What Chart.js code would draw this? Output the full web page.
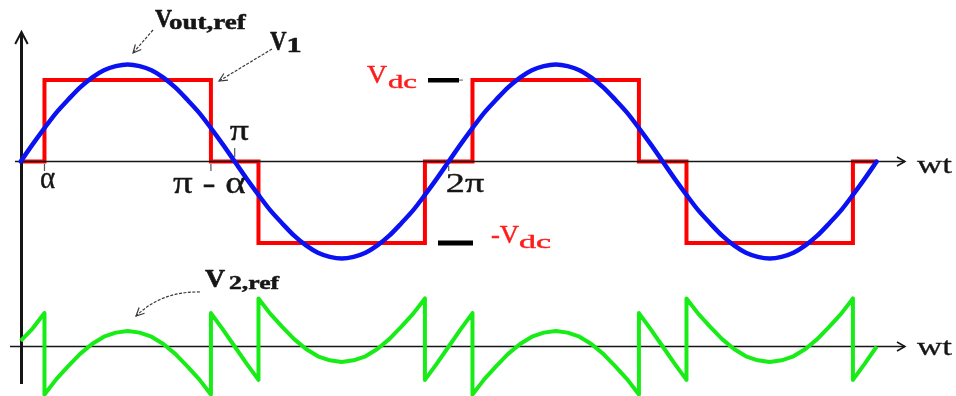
<!DOCTYPE html>
<html>
<head>
<meta charset="utf-8">
<title>Reference voltages of a three-level inverter leg</title>
<script src="https://cdn.jsdelivr.net/npm/chart.js@4.4.1/dist/chart.umd.min.js"></script>
<style>
  html, body { margin: 0; padding: 0; background: #ffffff; }
  #wrap { width: 956px; height: 396px; }
</style>
</head>
<body>
<div id="wrap"><canvas id="wave" width="956" height="396"></canvas></div>
<script>
// Angle axis in degrees (wt), two full periods.
const angleDeg = [
  0, 10, 20, 30, 40, 50, 60, 70, 80, 90, 100, 110, 120, 130, 140, 150, 160, 170,
  180, 190, 200, 210, 220, 230, 240, 250, 260, 270, 280, 290, 300, 310, 320, 330, 340, 350,
  360, 370, 380, 390, 400, 410, 420, 430, 440, 450, 460, 470, 480, 490, 500, 510, 520, 530,
  540, 550, 560, 570, 580, 590, 600, 610, 620, 630, 640, 650, 660, 670, 680, 690, 700, 710, 720
];

// Sinusoidal output reference, in units of Vdc.
const vOutRef = [
  0, 0.21, 0.41, 0.60, 0.76, 0.91, 1.03, 1.12, 1.17, 1.19, 1.17, 1.12, 1.03, 0.91, 0.76, 0.60, 0.41, 0.21,
  0, -0.21, -0.41, -0.60, -0.76, -0.91, -1.03, -1.12, -1.17, -1.19, -1.17, -1.12, -1.03, -0.91, -0.76, -0.60, -0.41, -0.21,
  0, 0.21, 0.41, 0.60, 0.76, 0.91, 1.03, 1.12, 1.17, 1.19, 1.17, 1.12, 1.03, 0.91, 0.76, 0.60, 0.41, 0.21,
  0, -0.21, -0.41, -0.60, -0.76, -0.91, -1.03, -1.12, -1.17, -1.19, -1.17, -1.12, -1.03, -0.91, -0.76, -0.60, -0.41, -0.21,
  0
];

// Quasi-square fundamental V1: switching angles and levels (units of Vdc).
const v1Angle = [0, 20, 20, 160, 160, 200, 200, 340, 340, 380, 380, 520, 520, 560, 560, 700, 700, 720];
const v1Level = [0, 0, 1, 1, 0, 0, -1, -1, 0, 0, 1, 1, 0, 0, -1, -1, 0, 0];

// Remaining reference V2,ref (units of Vdc), with the jumps at each switching angle.
const v2Angle = [
  0, 10, 20, 20, 30, 40, 50, 60, 70, 80, 90, 100, 110, 120, 130, 140, 150, 160, 160, 170,
  180, 190, 200, 200, 210, 220, 230, 240, 250, 260, 270, 280, 290, 300, 310, 320, 330, 340, 340, 350,
  360, 370, 380, 380, 390, 400, 410, 420, 430, 440, 450, 460, 470, 480, 490, 500, 510, 520, 520, 530,
  540, 550, 560, 560, 570, 580, 590, 600, 610, 620, 630, 640, 650, 660, 670, 680, 690, 700, 700, 710,
  720
];
const v2Ref = [
  0.07, 0.22, 0.41, -0.59, -0.40, -0.24, -0.09, 0.03, 0.12, 0.17, 0.19, 0.17, 0.12, 0.03, -0.09, -0.24, -0.40, -0.59, 0.41, 0.21,
  0, -0.21, -0.41, 0.59, 0.40, 0.24, 0.09, -0.03, -0.12, -0.17, -0.19, -0.17, -0.12, -0.03, 0.09, 0.24, 0.40, 0.59, -0.41, -0.21,
  0, 0.21, 0.41, -0.59, -0.40, -0.24, -0.09, 0.03, 0.12, 0.17, 0.19, 0.17, 0.12, 0.03, -0.09, -0.24, -0.40, -0.59, 0.41, 0.21,
  0, -0.21, -0.41, 0.59, 0.40, 0.24, 0.09, -0.03, -0.12, -0.17, -0.19, -0.17, -0.12, -0.03, 0.09, 0.24, 0.40, 0.59, -0.41, -0.21,
  0
];

const pts = (xs, ys) => xs.map((x, i) => ({ x: x, y: ys[i] }));

const SERIF = '"Liberation Serif", "Times New Roman", serif';

// Text drawn with its ink box stretched to a given width; an optional
// thin outline in the same colour gives the heavier printed look.
function fitText(ctx, text, x, baseline, font, width, color, weight) {
  ctx.save();
  ctx.font = font;
  ctx.fillStyle = color;
  ctx.strokeStyle = color;
  ctx.textAlign = 'left';
  ctx.textBaseline = 'alphabetic';
  const m = ctx.measureText(text);
  const ink = m.actualBoundingBoxLeft + m.actualBoundingBoxRight;
  const sx = width / ink;
  ctx.translate(x + m.actualBoundingBoxLeft * sx, baseline);
  ctx.scale(sx, 1);
  ctx.fillText(text, 0, 0);
  if (weight) {
    ctx.lineWidth = weight;
    ctx.lineJoin = 'round';
    ctx.strokeText(text, 0, 0);
  }
  ctx.restore();
}

function arrowHead(ctx, x, y, ang, len, spread) {
  ctx.beginPath();
  ctx.moveTo(x - len * Math.cos(ang - spread), y - len * Math.sin(ang - spread));
  ctx.lineTo(x, y);
  ctx.lineTo(x - len * Math.cos(ang + spread), y - len * Math.sin(ang + spread));
  ctx.stroke();
}

function callout(ctx, x1, y1, x2, y2, cx, cy) {
  ctx.save();
  ctx.strokeStyle = '#3a3a3a';
  ctx.lineWidth = 1.2;
  ctx.setLineDash([3, 1.5]);
  ctx.beginPath();
  ctx.moveTo(x1, y1);
  if (cx !== undefined) ctx.quadraticCurveTo(cx, cy, x2, y2); else ctx.lineTo(x2, y2);
  ctx.stroke();
  ctx.setLineDash([]);
  const fx = cx !== undefined ? cx : x1, fy = cy !== undefined ? cy : y1;
  arrowHead(ctx, x2, y2, Math.atan2(y2 - fy, x2 - fx), 9, 0.45);
  ctx.restore();
}

function axisArrowLine(ctx, x1, y, x2) {
  ctx.beginPath();
  ctx.moveTo(x1, y);
  ctx.lineTo(x2, y);
  ctx.stroke();
  ctx.beginPath();
  ctx.moveTo(x2 - 8, y - 4.5);
  ctx.lineTo(x2, y);
  ctx.lineTo(x2 - 8, y + 4.5);
  ctx.stroke();
}

const decor = {
  id: 'decor',
  beforeDatasetDraw(chart, args) {
    if (args.index !== 1) return;
    const { ctx } = chart;
    const X = v => chart.scales.x.getPixelForValue(v);
    const yT = chart.scales.yTop.getPixelForValue(0);
    const yB = chart.scales.yBot.getPixelForValue(0);
    ctx.save();
    ctx.strokeStyle = '#151515';
    ctx.lineWidth = 1.5;
    axisArrowLine(ctx, 15, yT, 905);
    axisArrowLine(ctx, 10, yB, 905);
    // vertical axis with arrow
    ctx.lineWidth = 3;
    ctx.beginPath();
    ctx.moveTo(X(0) + 0.8, 384);
    ctx.lineTo(X(0) + 0.8, 33);
    ctx.stroke();
    ctx.lineWidth = 2;
    ctx.beginPath();
    ctx.moveTo(X(0) - 5.5, 44);
    ctx.lineTo(X(0) + 0.8, 32);
    ctx.lineTo(X(0) + 7, 44);
    ctx.stroke();
    ctx.restore();
  },
  afterDatasetsDraw(chart) {
    const { ctx } = chart;
    const X = v => chart.scales.x.getPixelForValue(v);
    const yT = v => chart.scales.yTop.getPixelForValue(v);
    const dark = '#161616';
    const red = '#ff1c1c';

    // small angle ticks
    ctx.save();
    ctx.strokeStyle = '#555';
    ctx.lineWidth = 1.2;
    [[20, 164, 171], [160, 164, 171], [180, 148, 157], [360, 166, 171]].forEach(([a, t, b]) => {
      ctx.beginPath(); ctx.moveTo(X(a), t); ctx.lineTo(X(a), b); ctx.stroke();
    });
    ctx.restore();

    // angle labels
    fitText(ctx, 'α', X(20) - 3.5, 188, '31px ' + SERIF, 14, dark, 0.4);
    fitText(ctx, 'π - α', X(160) - 38, 193, '32px ' + SERIF, 73, dark, 0.4);
    fitText(ctx, 'π', X(180) - 5, 140, '30px ' + SERIF, 19, dark, 0.4);
    fitText(ctx, '2π', X(360) - 1.5, 192, '28px ' + SERIF, 37, dark, 0.4);

    // wt axis names
    fitText(ctx, 'wt', 917, 173, '25px ' + SERIF, 35, dark, 0.3);
    fitText(ctx, 'wt', 917, 355, '25px ' + SERIF, 35, dark, 0.3);

    // dc levels
    fitText(ctx, 'V', 367, 83, '25px ' + SERIF, 20, red, 0.5);
    fitText(ctx, 'dc', 388, 88, '18px ' + SERIF, 29, red, 0.4);
    fitText(ctx, '-V', 491, 243, '25px ' + SERIF, 28, red, 0.5);
    fitText(ctx, 'dc', 519, 248, '18px ' + SERIF, 32, red, 0.4);
    ctx.save();
    ctx.fillStyle = '#000';
    ctx.fillRect(428, yT(1) - 2, 31, 4.5);
    ctx.fillRect(438, yT(-1) - 2.5, 35, 5);
    ctx.fillStyle = '#777';
    ctx.fillRect(459, yT(1) - 0.5, 4, 1.2);
    ctx.restore();

    // series names and callouts
    fitText(ctx, 'V', 155, 27, 'bold 25px ' + SERIF, 17, dark, 0.6);
    fitText(ctx, 'out,ref', 169, 29, 'bold 21px ' + SERIF, 78, dark, 0.5);
    fitText(ctx, 'V', 270, 50, 'bold 27px ' + SERIF, 17, dark, 0.6);
    fitText(ctx, '1', 288, 52, 'bold 21px ' + SERIF, 13, dark, 0.5);
    fitText(ctx, 'V', 205, 287, 'bold 25px ' + SERIF, 20, dark, 0.6);
    fitText(ctx, '2,ref', 229, 289, 'bold 19px ' + SERIF, 51, dark, 0.5);

    callout(ctx, 153, 30, 133, 53);
    callout(ctx, 272, 49, 219, 81);
    callout(ctx, 200, 292, 136, 316, 162, 291);
  }
};

new Chart(document.getElementById('wave'), {
  type: 'line',
  data: {
    datasets: [
      {
        label: 'Vout,ref',
        data: pts(angleDeg, vOutRef),
        yAxisID: 'yTop',
        borderColor: '#0a12f2',
        borderWidth: 4.5,
        pointRadius: 0,
        tension: 0.3,
        borderJoinStyle: 'round',
        borderCapStyle: 'round'
      },
      {
        label: 'V2,ref',
        data: pts(v2Angle, v2Ref),
        yAxisID: 'yBot',
        borderColor: '#17ec17',
        borderWidth: 4,
        pointRadius: 0,
        tension: 0,
        borderJoinStyle: 'round'
      },
      {
        label: 'V1',
        data: pts(v1Angle, v1Level),
        yAxisID: 'yTop',
        borderColor: '#ff0000',
        borderWidth: 4,
        pointRadius: 0,
        tension: 0,
        borderJoinStyle: 'miter',
        borderCapStyle: 'butt'
      }
    ]
  },
  options: {
    responsive: false,
    animation: false,
    devicePixelRatio: 1,
    events: [],
    layout: { padding: 0 },
    plugins: { legend: { display: false }, tooltip: { enabled: false }, title: { display: false } },
    scales: {
      x: { type: 'linear', min: -17.41, max: 786.7, display: false },
      yTop: { type: 'linear', position: 'left', min: -2.8773, max: 1.9816, display: false },
      yBot: { type: 'linear', position: 'right', min: -0.6074, max: 4.2515, display: false }
    }
  },
  plugins: [decor]
});
</script>
</body>
</html>
